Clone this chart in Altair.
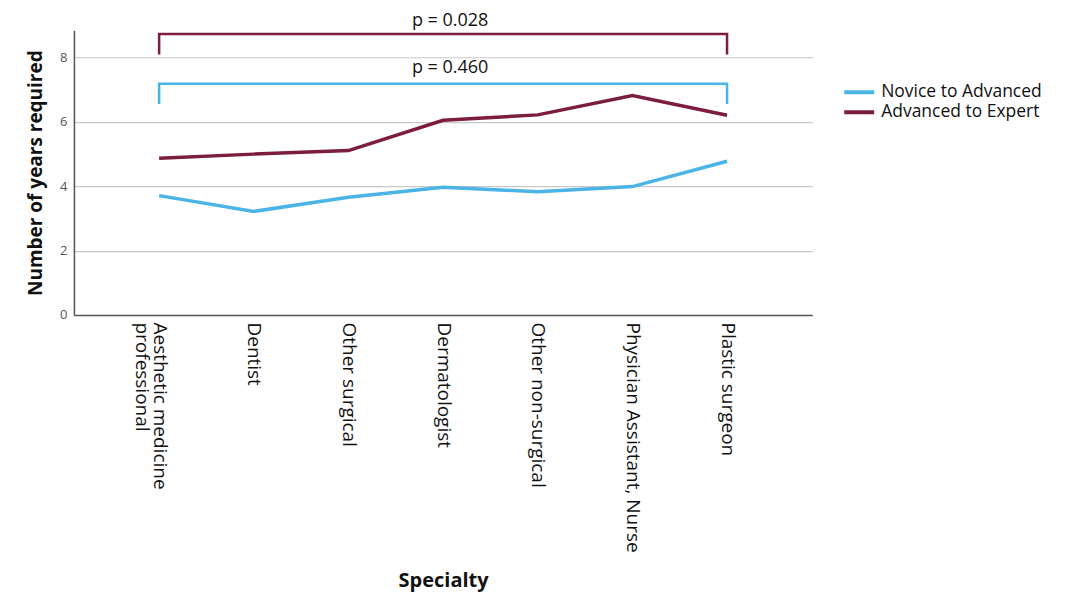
import altair as alt
import pandas as pd

categories = [
    "Aesthetic medicine professional",
    "Dentist",
    "Other surgical",
    "Dermatologist",
    "Other non-surgical",
    "Physician Assistant, Nurse",
    "Plastic surgeon",
]
series_names = ["Novice to Advanced", "Advanced to Expert"]
novice_to_advanced = [3.71, 3.22, 3.66, 3.97, 3.83, 3.99, 4.78]
advanced_to_expert = [4.87, 5.00, 5.11, 6.05, 6.22, 6.82, 6.21]
series_colors = ["#4BB4E6", "#7B1C40"]

# significance brackets
bracket_series = ["Advanced to Expert", "Novice to Advanced"]
bracket_top = [8.73, 7.19]
bracket_bottom = [8.10, 6.56]
bracket_labels = ["p = 0.028", "p = 0.460"]
bracket_label_y = [9.13, 7.67]

FONT = "Open Sans"

rows = []
for cat, a, b in zip(categories, novice_to_advanced, advanced_to_expert):
    rows.append({"Specialty": cat, "Series": series_names[0], "Years": a})
    rows.append({"Specialty": cat, "Series": series_names[1], "Years": b})
df = pd.DataFrame(rows)

brows = []
for s, top, bot in zip(bracket_series, bracket_top, bracket_bottom):
    brows += [
        {"Specialty": categories[0], "Years": bot, "Series": s, "o": 0},
        {"Specialty": categories[0], "Years": top, "Series": s, "o": 1},
        {"Specialty": categories[-1], "Years": top, "Series": s, "o": 2},
        {"Specialty": categories[-1], "Years": bot, "Series": s, "o": 3},
    ]
bdf = pd.DataFrame(brows)

tdf = pd.DataFrame({
    "Specialty": [categories[3]] * 2,
    "Years": bracket_label_y,
    "label": bracket_labels,
})

x_enc = alt.X(
    "Specialty:N",
    sort=categories,
    scale=alt.Scale(type="point", padding=0.9, domain=categories),
    axis=alt.Axis(
        title="Specialty",
        labelAngle=90,
        labelAlign="left",
        labelBaseline="middle",
        labelFontSize=19,
        labelColor="#111111",
        labelFont=FONT,
        labelPadding=7,
        labelLimit=400,
        labelLineHeight=18,
        labelExpr="datum.label == 'Aesthetic medicine professional' ? ['Aesthetic medicine', 'professional'] : datum.label",
        ticks=False,
        domainColor="#555555",
        domainWidth=1.5,
        grid=False,
        titleFont=FONT,
        titleFontSize=20,
        titleFontWeight="bold",
        titleColor="#111111",
        titleY=256,
        titleBaseline="top",
    ),
)

y_scale = alt.Scale(domain=[0, 8.85], nice=False)
color_scale = alt.Scale(domain=series_names, range=series_colors)

lines = alt.Chart(df).mark_line(strokeWidth=3.5).encode(
    x=x_enc,
    y=alt.Y(
        "Years:Q",
        scale=y_scale,
        axis=alt.Axis(
            title="Number of years required",
            values=[0, 2, 4, 6, 8],
            ticks=False,
            grid=True,
            gridColor="#c8c8c8",
            gridWidth=1.2,
            domainColor="#555555",
            domainWidth=1.5,
            labelFont=FONT,
            labelFontSize=13,
            labelColor="#555555",
            labelPadding=7,
            titleFont=FONT,
            titleFontSize=19,
            titleFontWeight="bold",
            titleColor="#111111",
            titlePadding=14,
        ),
    ),
    color=alt.Color(
        "Series:N",
        scale=color_scale,
        sort=series_names,
        legend=alt.Legend(
            title=None,
            orient="none",
            legendX=769,
            legendY=52,
            symbolType="stroke",
            symbolSize=900,
            symbolStrokeWidth=4,
            clipHeight=20,
            rowPadding=0,
            padding=0,
            labelFont=FONT,
            labelFontSize=17.5,
            labelColor="#111111",
            labelOffset=5,
            labelLimit=300,
        ),
    ),
)

brackets = alt.Chart(bdf).mark_line(strokeWidth=2.5).encode(
    x=alt.X("Specialty:N", sort=categories),
    y=alt.Y("Years:Q", scale=y_scale),
    color=alt.Color("Series:N", scale=color_scale, legend=None),
    detail="Series:N",
    order="o:Q",
)

texts = alt.Chart(tdf).mark_text(
    font=FONT, fontSize=18, color="#111111", dx=7, align="center", baseline="middle"
).encode(
    x=alt.X("Specialty:N", sort=categories),
    y=alt.Y("Years:Q", scale=y_scale),
    text="label:N",
)

chart = (
    alt.layer(lines, brackets, texts)
    .properties(
        width=739,
        height=285,
        background="white",
        autosize=alt.AutoSizeParams(type="none"),
        padding={"left": 66, "top": 22, "right": 260, "bottom": 284},
    )
    .configure_view(stroke=None)
)

chart.save("out.html", embed_options={"renderer": "svg", "actions": False})
